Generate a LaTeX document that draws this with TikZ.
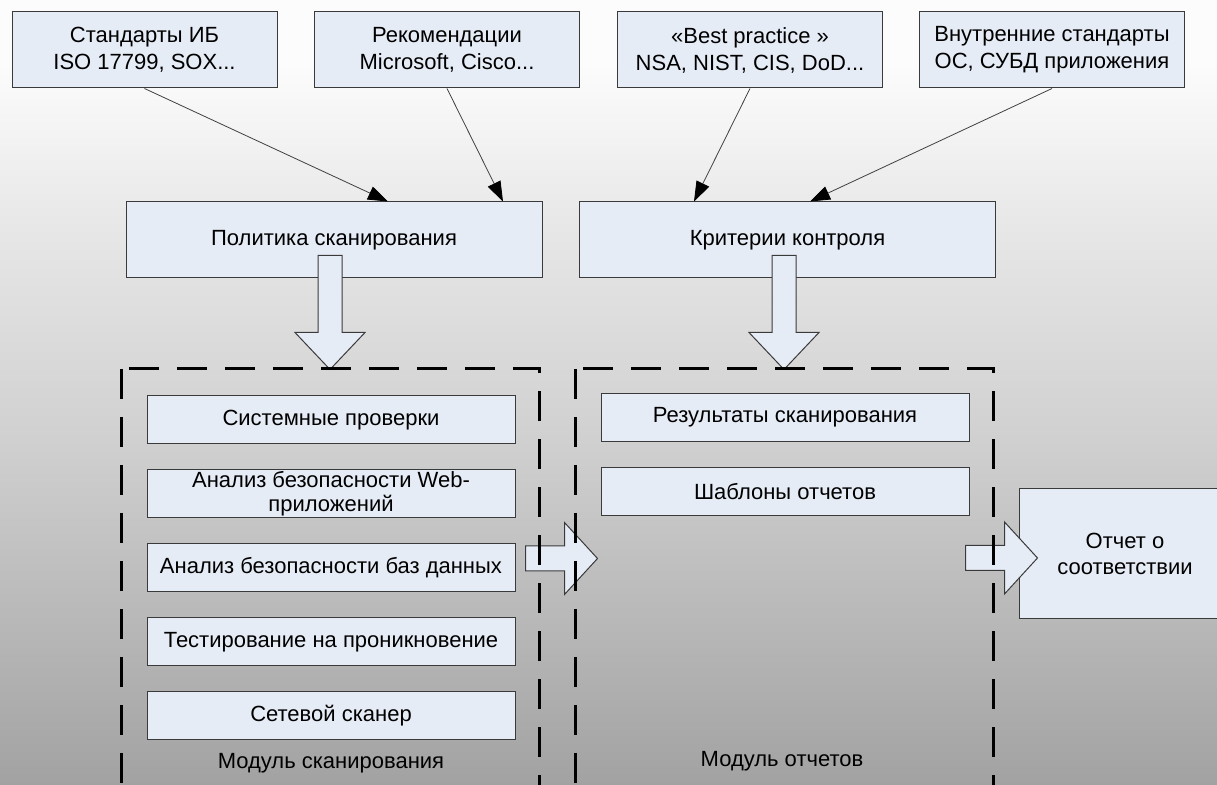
\documentclass[tikz,border=0pt]{standalone}
\usepackage{fontspec}
\setmainfont{Liberation Sans}
\usetikzlibrary{arrows.meta}
\definecolor{boxfill}{HTML}{E6ECF6}
\definecolor{boxline}{HTML}{3A3A3A}
\definecolor{bgtop}{HTML}{FCFCFC}
\definecolor{bgupper}{HTML}{E6E6E6}
\definecolor{bgmid}{HTML}{D0D0D0}
\definecolor{bgbot}{HTML}{A2A2A2}
% the picture maps to 25bp..75bp of the shading
\pgfdeclareverticalshading{bgshade}{100bp}{color(0bp)=(bgbot); color(25bp)=(bgbot); color(47bp)=(bgmid); color(60bp)=(bgupper); color(71bp)=(bgtop); color(100bp)=(bgtop)}
\begin{document}
\begin{tikzpicture}[x=0.5pt, y=-0.5pt,
  every node/.style = {font=\fontsize{11}{13.5}\selectfont},
  box/.style = {draw=boxline, line width=0.5pt, fill=boxfill,
    align=center, inner sep=0pt},
  srcbox/.style = {box, minimum width=132.5pt, minimum height=38pt},
  ctrbox/.style = {box, minimum width=208pt, minimum height=38pt},
  itembox/.style = {box, minimum width=184pt, minimum height=24pt},
  feed/.style = {draw=black!75, line width=0.4pt,
    -{Triangle[length=10pt,width=7pt,black]}},
  fatline/.style = {draw=boxline, line width=0.5pt, fill=boxfill},
  modline/.style = {line width=1.5pt, dash pattern=on 15pt off 9pt},
  fatdown/.pic = {\path[fatline] (-12,0) -- (-12,77) -- (-35,77) -- (0,114)
    -- (35,77) -- (12,77) -- (12,0) -- cycle;},
  fatright/.pic = {\path[fatline] (0,-12.5) -- (39,-12.5) -- (39,-36) -- (72,0)
    -- (39,36) -- (39,12.5) -- (0,12.5) -- cycle;}]
  \clip (0,0) rectangle (1217,785);
  \shade[shading=bgshade] (0,0) rectangle (1217,785);

  % sources
  \node[srcbox] (std) at (144.5,50) {Стандарты ИБ\\ISO 17799, SOX...};
  \node[srcbox] (rec) at (447,50) {Рекомендации\\Microsoft, Cisco...};
  \node[srcbox] (best) at (750,50) {«Best practice »\\NSA, NIST, CIS, DoD...};
  \node[srcbox] (own) at (1052,50) {Внутренние стандарты\\ОС, СУБД приложения};

  \node[ctrbox] (pol) at (334,240) {Политика сканирования};
  \node[ctrbox] (crit) at (787.5,240) {Критерии контроля};

  \draw[feed] (std.south) -- ([xshift=27pt]pol.north);
  \draw[feed] (rec.south) -- ([xshift=84.5pt]pol.north);
  \draw[feed] (best.south) -- ([xshift=-46.75pt]crit.north);
  \draw[feed] (own.south) -- ([xshift=11.25pt]crit.north);

  % modules
  \node[itembox] (sys) at (331,420) {Системные проверки};
  \node[itembox, font=\fontsize{11}{12}\selectfont] (web) at (331,494)
    {Анализ безопасности Web-\\приложений};
  \node[itembox] (db) at (331,568) {Анализ безопасности баз данных};
  \node[itembox] (pen) at (331,642) {Тестирование на проникновение};
  \node[itembox] (net) at (331,716) {Сетевой сканер};
  \node (scanlbl) at (331,763) {Модуль сканирования};

  \node[itembox] (res) at (785,417.5) {Результаты сканирования};
  \node[itembox] (tpl) at (785,491.5) {Шаблоны отчетов};
  \node (replbl) at (782,761) {Модуль отчетов};

  \node[box, minimum width=106pt, minimum height=65pt,
    font=\fontsize{11}{13}\selectfont] (rep) at (1125,554) {Отчет о\\соответствии};

  \pic at ([xshift=-2pt,yshift=11.5pt]pol.south) {fatdown};
  \pic at ([xshift=-1.75pt,yshift=11.5pt]crit.south) {fatdown};
  \pic at ([xshift=5pt,yshift=4.75pt]db.east) {fatright};
  \pic at ([xshift=-26.5pt,yshift=-2pt]rep.west) {fatright};

  \draw[modline] (121,369) rectangle (539,810);
  \draw[modline] (575,369) rectangle (993,810);
\end{tikzpicture}
\end{document}
